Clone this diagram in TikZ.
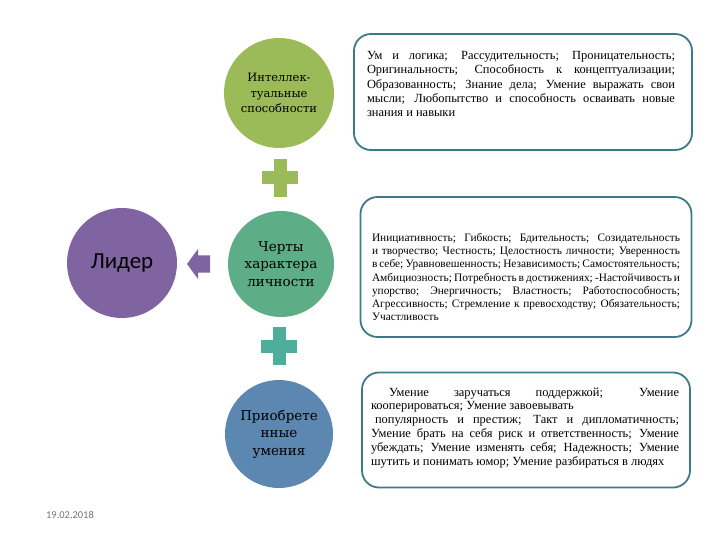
\documentclass[tikz,border=0pt]{standalone}
\usepackage{fontspec}
\setmainfont{Liberation Serif}
\newfontfamily\circlefont{DejaVu Serif}
\newfontfamily\liderfont{Carlito}

\definecolor{intelgreen}{HTML}{9BBB59}
\definecolor{chertygreen}{HTML}{5DAE86}
\definecolor{plusteal}{HTML}{4FAE9B}
\definecolor{umeniablue}{HTML}{5B87B0}
\definecolor{liderpurple}{HTML}{8064A2}
\definecolor{boxteal}{HTML}{3B7A89}

\tikzset{
  lead circle/.style={circle, inner sep=0pt, minimum size=#1, align=center, text=black},
  trait box/.style={rectangle, draw=boxteal, line width=1.8pt, rounded corners=17pt, fill=white,
    inner sep=0pt},
  trait text/.style={inner sep=0pt, text width=308bp, align=justify,
    font=\fontsize{12.5}{14.3}\selectfont},
  plus arm/.style={fill=#1},
}

\begin{document}
\begin{tikzpicture}[x=1bp, y=-1bp]
  \useasboundingbox (0,0) rectangle (720,540);

  % circles
  \node (lider) [lead circle=110bp, fill=liderpurple, font=\liderfont\fontsize{23}{26}\selectfont] at (122,263) {Лидер};
  \node (intel) [lead circle=110bp, fill=intelgreen, font=\circlefont\fontsize{11.5}{15.5}\selectfont] at (279,93) {Интеллек-\\туальные\\способности};
  \node (cherty) [lead circle=106bp, fill=chertygreen, font=\circlefont\fontsize{13.5}{17.5}\selectfont] at (281,264) {Черты\\характера\\личности};
  \node (umenia) [lead circle=108bp, fill=umeniablue, font=\circlefont\fontsize{13.5}{17.5}\selectfont] at (279,434) {Приобрете\\нные\\умения};

  % arrow to the leader
  \fill[liderpurple] (187,264) -- (198,249) -- (198,255.5) -- (210,255.5) -- (210,272.5)
    -- (198,272.5) -- (198,279) -- cycle;

  % plus signs
  \foreach \px/\py/\pc in {280/178/intelgreen, 279/346/plusteal} {
    \fill[plus arm=\pc] (\px-18,\py-6.5) rectangle (\px+18,\py+6.5);
    \fill[plus arm=\pc] (\px-6.5,\py-19) rectangle (\px+6.5,\py+19);
  }

  % text boxes
  \node (intelbox) [trait box, minimum width=338bp, minimum height=116bp] at (523,92) {};
  \node (inteltext) [trait text] at (521,84) {Ум и логика; Рассудительность; Проницательность;\linebreak
    Оригинальность; Способность к концептуализации;\linebreak
    Образованность; Знание дела; Умение выражать свои\linebreak
    мысли; Любопытство и способность осваивать новые\linebreak
    знания и навыки};

  \node (chertybox) [trait box, minimum width=331bp, minimum height=140bp] at (526,267) {};
  \node (chertytext) [trait text, font=\fontsize{11.4}{13.2}\selectfont] at (526,277) {Инициативность; Гибкость; Бдительность; Созидательность\linebreak
    и творчество; Честность; Целостность личности; Уверенность\linebreak
    в себе; Уравновешенность; Независимость; Самостоятельность;\linebreak
    Амбициозность; Потребность в достижениях; -Настойчивость и\linebreak
    упорство; Энергичность; Властность; Работоспособность;\linebreak
    Агрессивность; Стремление к превосходству; Обязательность;\linebreak
    Участливость};

  \node (umeniabox) [trait box, minimum width=328bp, minimum height=115bp] at (526,430) {};
  \node (umeniatext) [trait text, font=\fontsize{12.5}{14}\selectfont] at (525,428) {\hspace*{18bp}Умение заручаться поддержкой; Умение\linebreak
    кооперироваться; Умение завоевывать\newline
    \hspace*{4bp}популярность и престиж; Такт и дипломатичность;\linebreak
    Умение брать на себя риск и ответственность; Умение\linebreak
    убеждать; Умение изменять себя; Надежность; Умение\linebreak
    шутить и понимать юмор; Умение разбираться в людях};

  % date
  \node (datum) [font=\liderfont\fontsize{10.5}{12}\selectfont, text=black!55] at (70,515) {19.02.2018};
\end{tikzpicture}
\end{document}
